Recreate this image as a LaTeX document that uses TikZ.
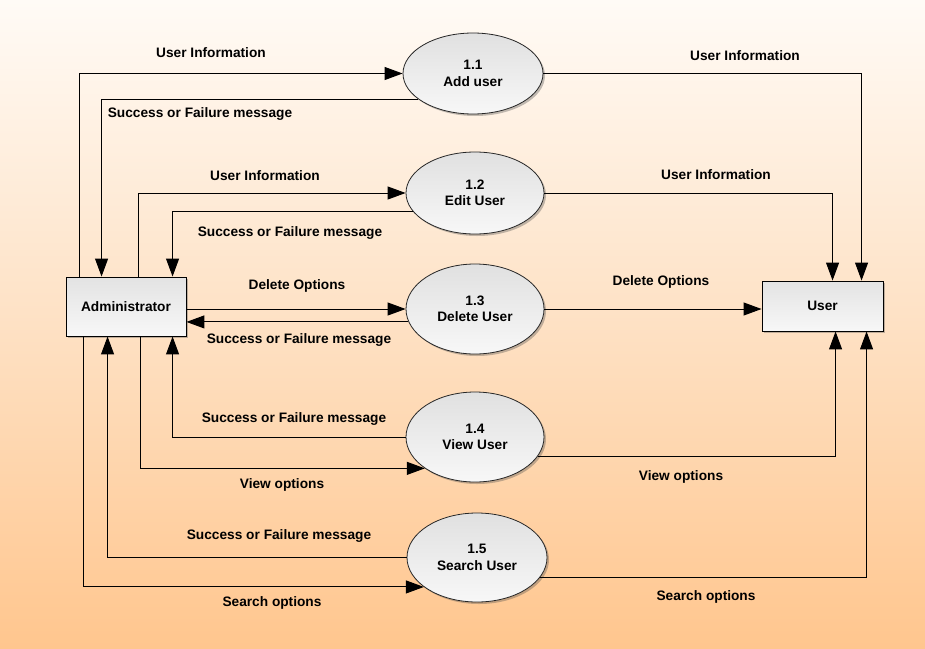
\documentclass[tikz,border=0pt]{standalone}
\usepackage{fontspec}
\setmainfont{Liberation Sans}
\usetikzlibrary{arrows.meta,shadows,calc,positioning,shapes.geometric}
\definecolor{bgtop}{HTML}{FFFBF6}
\definecolor{bgbot}{HTML}{FFC68E}
\definecolor{bgmid}{HTML}{FEE1C4}
\begin{document}
\begin{tikzpicture}[x=1pt,y=-1pt,
  every node/.style={font=\fontsize{13.7}{16.5}\selectfont\bfseries, text=black},
  entity/.style={draw=black, line width=0.9pt, rectangle, top color=black!11, bottom color=white!97!black,
    drop shadow={shadow xshift=2pt,shadow yshift=-2pt,opacity=0.35,fill=black!70}, inner sep=0pt},
  proc/.style={draw=black!85, line width=0.8pt, ellipse, top color=black!12, bottom color=white!97!black,
    drop shadow={shadow xshift=2pt,shadow yshift=-2pt,opacity=0.35,fill=black!70}, inner sep=0pt, align=center},
  flow/.style={draw=black, line width=1pt, -{Triangle[length=18pt,width=13pt]}},
  lbl/.style={inner sep=1pt}
]
\shade[top color=bgtop, bottom color=bgbot, middle color=bgmid] (0,0) rectangle (925,648);
\useasboundingbox (0,0) rectangle (925,648);

% nodes
\node[entity, minimum width=120pt, minimum height=59pt] (admin) at (126,306.5) {Administrator};
\node[entity, minimum width=121pt, minimum height=50pt] (user) at (822.5,306) {User};
\node[proc, minimum width=140pt, minimum height=81pt] (e1) at (473,73.5) {1.1\\Add user};
\node[proc, minimum width=138pt, minimum height=82pt] (e2) at (475,193) {1.2\\Edit User};
\node[proc, minimum width=138pt, minimum height=90pt] (e3) at (475,309) {1.3\\Delete User};
\node[proc, minimum width=138pt, minimum height=90pt] (e4) at (475,437) {1.4\\View User};
\node[proc, minimum width=140pt, minimum height=89pt] (e5) at (477,557.5) {1.5\\Search User};

% attachment points on the boxes
\coordinate (at1) at ($(admin.north west)+(14,0)$);
\coordinate (at2) at ($(admin.north west)+(36,0)$);
\coordinate (at3) at ($(admin.north west)+(73,0)$);
\coordinate (at4) at ($(admin.north west)+(107,0)$);
\coordinate (ab1) at ($(admin.south west)+(18,0)$);
\coordinate (ab2) at ($(admin.south west)+(42,0)$);
\coordinate (ab3) at ($(admin.south west)+(75,0)$);
\coordinate (ab4) at ($(admin.south west)+(107,0)$);
\coordinate (ut1) at ($(user.north west)+(71,0)$);
\coordinate (ut2) at ($(user.north west)+(100,0)$);
\coordinate (ub1) at ($(user.south west)+(74,0)$);
\coordinate (ub2) at ($(user.south west)+(105,0)$);

% connectors
\draw[flow] (at1) |- (e1.west);
\draw[flow] (e1.205) -| (at2);
\draw[flow] (at3) |- (e2.west);
\draw[flow] (e2.197) -| (at4);
\draw[flow] (e3.west -| admin.east) -- (e3.west);
\draw[flow] (e3.191) -- (e3.191 -| admin.east);
\draw[flow] (e3.east) -- (e3.east -| user.west);
\draw[flow] (e4.west) -| (ab4);
\draw[flow] (ab3) |- (e4.212);
\draw[flow] (e5.west) -| (ab2);
\draw[flow] (ab1) |- (e5.209);
\draw[flow] (e1.east) -| (ut2);
\draw[flow] (e2.east) -| (ut1);
\draw[flow] (e4.343) -| (ub1);
\draw[flow] (e5.342) -| (ub2);

% labels
\node[lbl] (l1) at (211,52.5) {User Information};
\node[lbl] (l2) at (200,113.5) {Success or Failure message};
\node[lbl] (l3) at (265,175.5) {User Information};
\node[lbl] (l4) at (290,232.5) {Success or Failure message};
\node[lbl] (l5) at (297,285.5) {Delete Options};
\node[lbl] (l6) at (299,339.5) {Success or Failure message};
\node[lbl] (l7) at (294,418.5) {Success or Failure message};
\node[lbl] (l8) at (282,484.5) {View options};
\node[lbl] (l9) at (279,535.5) {Success or Failure message};
\node[lbl] (l10) at (272,602.5) {Search options};
\node[lbl] (l11) at (745,55.5) {User Information};
\node[lbl] (l12) at (716,174.5) {User Information};
\node[lbl] (l13) at (661,281.5) {Delete Options};
\node[lbl] (l14) at (681,476.5) {View options};
\node[lbl] (l15) at (706,596.5) {Search options};
\end{tikzpicture}
\end{document}
